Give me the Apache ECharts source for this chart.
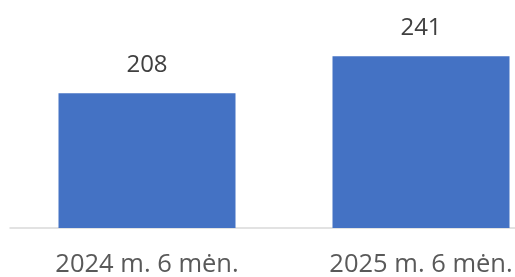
<!DOCTYPE html>
<html>
<head>
<meta charset="utf-8">
<script src="https://cdn.jsdelivr.net/npm/echarts@6/dist/echarts.min.js"></script>
<style>
  html, body { margin: 0; padding: 0; background: #fff; }
  #main { width: 515px; height: 277px; }
</style>
</head>
<body>
<div id="main"></div>
<script>
// duomenys
var categories = ['2024 m. 6 mėn.', '2025 m. 6 mėn.'];
var values = [208, 241];

var myChart = echarts.init(document.getElementById('main'));
myChart.setOption({
    animation: false,
    grid: { left: 10, top: 35, width: 548, height: 193, outerBoundsMode: 'none', containLabel: false },
    xAxis: {
        type: 'category',
        data: categories,
        axisLine: { lineStyle: { color: '#D9D9D9', width: 1.5 } },
        axisTick: { show: false },
        axisLabel: {
            color: '#595959',
            fontFamily: 'Open Sans',
            fontSize: 25.5,
            margin: 24
        }
    },
    yAxis: {
        type: 'value',
        min: 88,
        max: 260,
        show: false,
        splitLine: { show: false }
    },
    series: [{
        type: 'bar',
        data: values,
        barWidth: '64.6%',
        itemStyle: { color: '#4472C4' },
        label: {
            show: true,
            position: 'top',
            distance: 16,
            color: '#404040',
            fontFamily: 'Open Sans',
            fontSize: 24
        }
    }]
});
</script>
</body>
</html>
